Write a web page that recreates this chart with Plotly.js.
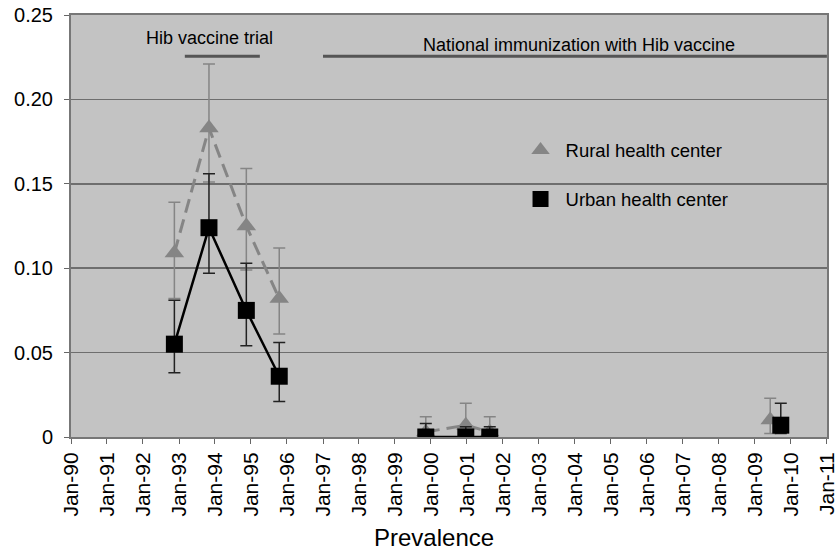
<!DOCTYPE html>
<html>
<head>
<meta charset="utf-8">
<script src="https://cdn.plot.ly/plotly-3.0.1.min.js"></script>
<style>html,body{margin:0;padding:0;background:#fff;}#chart{width:837px;height:551px;}</style>
</head>
<body>
<div id="chart"></div>
<script>
// Dates of observations (null = gap between study periods)
const urbanDates = ["1992-11-15", "1993-11-01", "1994-11-15", "1995-10-15", null, "1999-11-10", "2000-12-20", "2001-08-20", null, "2009-09-20"];
const urbanValues = [0.055, 0.124, 0.075, 0.036, null, 0.0, 0.0, 0.0, null, 0.007];
const urbanErrPlus = [0.026, 0.032, 0.028, 0.020, null, 0.008, 0.006, 0.006, null, 0.013];
const urbanErrMinus = [0.017, 0.027, 0.021, 0.015, null, 0.0, 0.0, 0.0, null, 0.005];

const ruralDates = ["1992-11-15", "1993-11-01", "1994-11-15", "1995-10-15", null, "1999-11-10", "2000-12-20", "2001-08-20", null, "2009-06-05"];
const ruralValues = [0.109, 0.183, 0.125, 0.082, null, 0.003, 0.007, 0.003, null, 0.010];
const ruralErrPlus = [0.030, 0.038, 0.034, 0.030, null, 0.009, 0.013, 0.009, null, 0.013];
const ruralErrMinus = [0.027, 0.032, 0.026, 0.021, null, 0.003, 0.007, 0.003, null, 0.008];

const yTickVals = [0, 0.05, 0.10, 0.15, 0.20, 0.25];
const yTickText = ["0", "0.05", "0.10", "0.15", "0.20", "0.25"];

const seriesNames = ["Rural health center", "Urban health center"];
const trialPeriod = ["1993-03-01", "1995-04-01"];
const nationalPeriod = ["1997-01-01", "2011-01-01"];
const periodLabels = ["Hib vaccine trial", "National immunization with Hib vaccine"];
const xTitle = "Prevalence";
const xRange = ["1990-01-01", "2011-01-02"];

const font = "Liberation Sans, Arial, sans-serif";
const ruralColor = "#858585";
const urbanColor = "#000000";

const traces = [
  {
    x: ruralDates, y: ruralValues, type: "scatter", mode: "lines+markers",
    connectgaps: false, showlegend: false,
    line: {color: ruralColor, width: 3, dash: "14px,7px"},
    marker: {symbol: "triangle-up", size: 17, color: ruralColor},
    error_y: {type: "data", symmetric: false, array: ruralErrPlus, arrayminus: ruralErrMinus,
      color: ruralColor, thickness: 1.5, width: 6}
  },
  {
    x: urbanDates, y: urbanValues, type: "scatter", mode: "lines+markers",
    connectgaps: false, showlegend: false,
    line: {color: urbanColor, width: 2.5},
    marker: {symbol: "square", size: 17, color: urbanColor},
    error_y: {type: "data", symmetric: false, array: urbanErrPlus, arrayminus: urbanErrMinus,
      color: "#222", thickness: 1.5, width: 6}
  },
  {
    x: [null], y: [null], type: "scatter", mode: "markers", name: seriesNames[0],
    legendgroup: "r", marker: {symbol: "triangle-up", size: 17, color: ruralColor}
  },
  {
    x: [null], y: [null], type: "scatter", mode: "markers", name: seriesNames[1],
    legendgroup: "u", marker: {symbol: "square", size: 17, color: urbanColor}
  }
];

const W = 837 - 71 - 10, H = 551 - 15 - 114;
function px(p) { return (p - 71) / W; }
function py(p) { return (551 - 114 - p) / H; }

const layout = {
  width: 837, height: 551,
  margin: {l: 71, r: 10, t: 15, b: 114},
  paper_bgcolor: "#ffffff",
  plot_bgcolor: "#c3c3c3",
  font: {family: font, color: "#000", size: 18},
  showlegend: true,
  legend: {x: 0.588, y: 0.724, xanchor: "left", yanchor: "top", bgcolor: "rgba(0,0,0,0)",
    traceorder: "grouped", tracegroupgap: 22, itemwidth: 40, font: {size: 18.5, family: font}},
  xaxis: {
    type: "date", range: xRange,
    tickformat: "%b-%y", dtick: "M12", tick0: "1990-01-01",
    tickangle: -90, tickfont: {size: 21, family: font}, ticklabeloverflow: "allow",
    ticks: "outside", ticklen: 5, tickcolor: "#666",
    showgrid: false, zeroline: false,
    showline: true, linecolor: "#777", linewidth: 2, mirror: true
  },
  yaxis: {
    range: [0, 0.25], tickvals: yTickVals, ticktext: yTickText,
    tickfont: {size: 20, family: font}, ticklabelstandoff: 7,
    ticks: "outside", ticklen: 5, tickcolor: "#666",
    showgrid: true, gridcolor: "#6e6e6e", gridwidth: 1.5,
    zeroline: false, showline: true, linecolor: "#777", linewidth: 2, mirror: true
  },
  shapes: [
    {type: "line", xref: "x", yref: "y", x0: trialPeriod[0], x1: trialPeriod[1], y0: 0.2255, y1: 0.2255,
      line: {color: "#555", width: 3}},
    {type: "line", xref: "x", yref: "y", x0: nationalPeriod[0], x1: nationalPeriod[1], y0: 0.2255, y1: 0.2255,
      line: {color: "#555", width: 3}}
  ],
  annotations: [
    {text: periodLabels[0], xref: "paper", yref: "paper", x: 0.183, y: 0.945, xanchor: "center", yanchor: "middle",
      showarrow: false, font: {size: 18, family: font}},
    {text: periodLabels[1], xref: "paper", yref: "paper", x: 0.672, y: 0.929, xanchor: "center", yanchor: "middle",
      showarrow: false, font: {size: 18, family: font}},
    {text: xTitle, xref: "paper", yref: "paper", x: px(434), y: py(537), xanchor: "center", yanchor: "middle",
      showarrow: false, font: {size: 24, family: font}}
  ]
};

Plotly.newPlot("chart", traces, layout, {displayModeBar: false, staticPlot: true});
</script>
</body>
</html>
